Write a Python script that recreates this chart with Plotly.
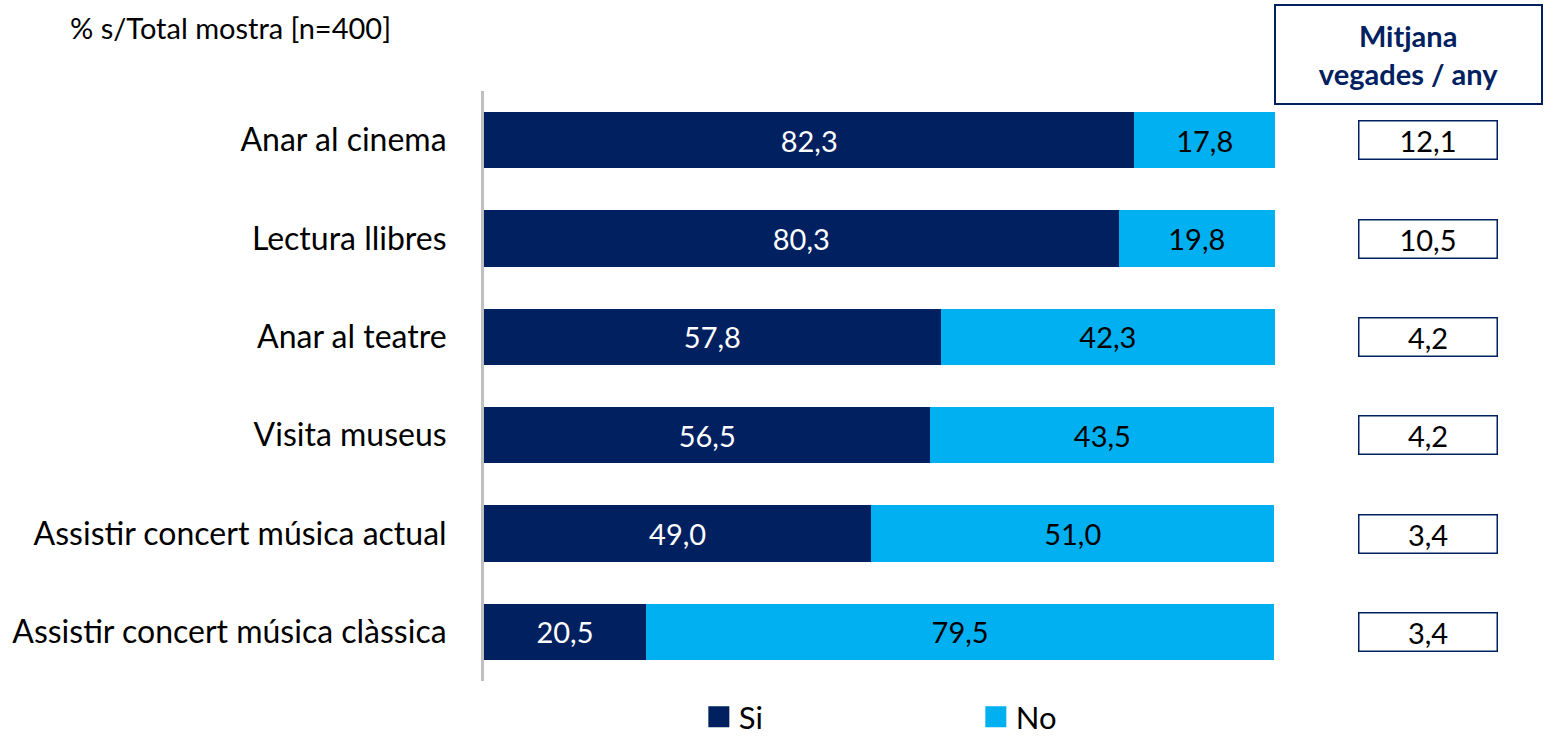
import plotly.graph_objects as go

categories = ["Anar al cinema", "Lectura llibres", "Anar al teatre", "Visita museus",
              "Assistir concert música actual", "Assistir concert música clàssica"]
si_values = [82.3, 80.3, 57.8, 56.5, 49.0, 20.5]
no_values = [17.8, 19.8, 42.3, 43.5, 51.0, 79.5]
mitjana = ["12,1", "10,5", "4,2", "4,2", "3,4", "3,4"]

NAVY = "#002060"
CYAN = "#00B0F0"
FONT = "Lato, Carlito, Calibri, sans-serif"

fig = go.Figure()
fig.add_trace(go.Bar(y=categories, x=si_values, name="Si", orientation="h",
                     marker=dict(color=NAVY, line=dict(width=0)),
                     texttemplate="%{x:.1f}", textposition="inside",
                     insidetextanchor="middle", showlegend=False,
                     textfont=dict(color="white", size=29, family=FONT)))
fig.add_trace(go.Bar(y=categories, x=no_values, name="No", orientation="h",
                     marker=dict(color=CYAN, line=dict(width=0)),
                     texttemplate="%{x:.1f}", textposition="inside",
                     insidetextanchor="middle", showlegend=False,
                     textfont=dict(color="black", size=29, family=FONT)))

# legend entries (square swatches)
for name, col in [("Si", NAVY), ("No", CYAN)]:
    fig.add_trace(go.Scatter(x=[None], y=[None], mode="markers", name=name,
                             marker=dict(symbol="square", size=16, color=col,
                                         line=dict(color=col, width=5)),
                             hoverinfo="skip"))

for cat, val in zip(categories, mitjana):
    fig.add_annotation(x=1.194, xref="paper", y=cat, yref="y", text=val,
                       showarrow=False, font=dict(size=29, color="black", family=FONT),
                       width=135, height=35, bordercolor=NAVY, borderwidth=1.5,
                       bgcolor="white", xanchor="center", yanchor="middle")

fig.add_annotation(x=1.1694, xref="paper", y=1.0619, yref="paper",
                   text="<b>Mitjana<br>vegades / any</b>", showarrow=False,
                   font=dict(size=29, color=NAVY, family=FONT),
                   width=263, height=95, bordercolor=NAVY, borderwidth=2,
                   xanchor="center", yanchor="middle")

fig.add_annotation(x=-0.526, xref="paper", y=1.1068, yref="paper",
                   text="% s/Total mostra [n=400]", showarrow=False,
                   font=dict(size=29, color="black", family=FONT),
                   xanchor="left", yanchor="middle")

fig.update_layout(
    barmode="stack",
    bargap=0.43,
    separators=",.",
    width=1546, height=744,
    margin=dict(l=484, r=271, t=91, b=63),
    plot_bgcolor="white", paper_bgcolor="white",
    font=dict(family=FONT, color="black", size=32),
    showlegend=True,
    legend=dict(orientation="h", x=0.2716, xanchor="left", xref="paper",
                y=0, yanchor="bottom", yref="container",
                font=dict(size=31, family=FONT, color="black"),
                entrywidth=232, entrywidthmode="pixels", traceorder="normal",
                itemclick=False, itemdoubleclick=False, valign="middle"),
)
fig.update_xaxes(range=[0, 100.1], visible=False, showgrid=False, zeroline=False,
                 automargin=False)
fig.update_yaxes(autorange="reversed", showline=True, linecolor="#BFBFBF", linewidth=3,
                 showgrid=False, ticks="", ticklabelstandoff=28, automargin=False,
                 tickfont=dict(size=32, color="black", family=FONT))

fig.write_html("out.html", config={"displayModeBar": False},
               post_script="document.body.style.margin='0';")
